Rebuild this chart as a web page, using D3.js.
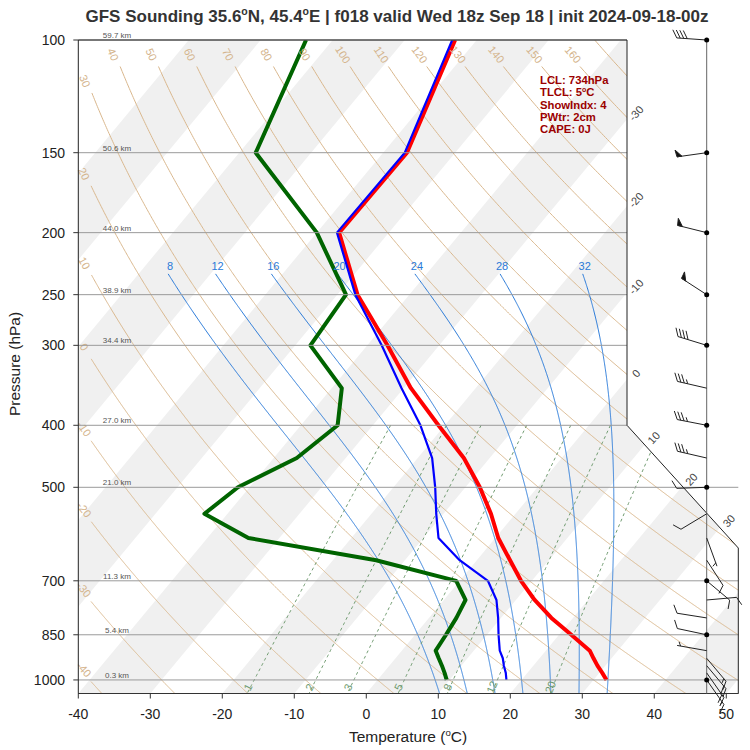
<!DOCTYPE html>
<html>
<head>
<meta charset="utf-8">
<script src="https://cdn.jsdelivr.net/npm/d3@7"></script>
<style>
  body { margin: 0; background: #fff; }
  text { font-family: "Liberation Sans", Arial, sans-serif; }
</style>
</head>
<body>
<script>
// sounding levels (hPa) and profiles (degC)
const levels  = [1000, 975, 950, 925, 900, 850, 800, 750, 700, 650, 600, 550, 500, 450, 400, 350, 300, 250, 200, 150, 100];
const temp    = [31.8, 30.4, 28.9, 27.5, 26.1, 21.7, 17.0, 12.6, 8.5, 4.6, 0.4, -3.4, -8.0, -13.6, -20.9, -29.0, -37.2, -47.2, -56.9, -56.7, -63.0];
const wetbulb = [17.9, 17.0, 15.9, 14.9, 13.6, 11.6, 9.6, 7.3, 3.9, -2.4, -7.9, -11.0, -14.2, -18.0, -23.4, -30.3, -38.0, -47.5, -57.2, -57.0, -63.4];
const dewpt   = [9.6, 8.5, 7.3, 6.0, 4.7, 4.3, 3.8, 3.0, -0.5, -14.0, -34.3, -43.2, -41.6, -36.8, -34.9, -38.6, -47.9, -48.8, -60.0, -77.7, -83.7];

// winds: direction (deg from) and speed (kt)
const windDir = [145, 145, 140, 140, 280, 282, 279, 85, 130, 147, 160, 239, 268, 283, 281, 283, 287, 303, 284, 262, 274];
const windSpd = [15, 20, 20, 15, 5, 10, 10, 10, 10, 10, 5, 10, 10, 35, 35, 35, 40, 50, 50, 50, 40];

const pTicks = [100, 150, 200, 250, 300, 400, 500, 700, 850, 1000];
const heightLabels = ["59.7 km", "50.6 km", "44.0 km", "38.9 km", "34.4 km", "27.0 km", "21.0 km", "11.3 km", "5.4 km", "0.3 km"];
const tTicks = [-40, -30, -20, -10, 0, 10, 20, 30, 40, 50];

const dryThetas = d3.range(-40, 190, 10);
const moistThetas = [8, 12, 16, 20, 24, 28, 32];
const mixRatios = [1, 2, 3, 5, 8, 12, 20];
const isoEdgeLabels = [-30, -20, -10, 0];
const isoBevelLabels = [10, 20, 30];
const indexLines = ["LCL: 734hPa", "TLCL: 5|C", "ShowIndx: 4", "PWtr: 2cm", "CAPE: 0J"];

const W = 750, H = 750;
const svg = d3.select('body').append('svg').attr('width', W).attr('height', H);

const x = d3.scaleLinear().domain([-40, 51.67]).range([78.3, 738.3]);
const y = d3.scaleLog().domain([100, 1050]).range([40, 693.5]);
const K = 0.83;
const yb = y(1050);
const sx = (T, p) => x(T) + K * (yb - y(p));

const xL = x(-40), xR = x(51.67), xTop = 627, yT = y(100);
const bevelY0 = y(400), bevelY1 = 548;
const frame = [[xL, yT], [xTop, yT], [xTop, bevelY0], [xR, bevelY1], [xR, yb], [xL, yb]];

svg.append('clipPath').attr('id', 'plot')
  .append('polygon').attr('points', frame.map(d => d.join(',')).join(' '));

const plot = svg.append('g').attr('clip-path', 'url(#plot)');
const line = d3.line();

// isotherm bands
d3.range(-100, 50, 20).forEach(t0 => {
  const pts = [[sx(t0, 1050), yb], [sx(t0, 100), yT], [sx(t0 + 10, 100), yT], [sx(t0 + 10, 1050), yb]];
  plot.append('polygon').attr('points', pts.map(d => d.join(',')).join(' ')).attr('fill', '#f0f0f0');
});

// dry adiabats
const dryT = (th, p) => (th + 273.15) * Math.pow(p / 1000, 0.2857) - 273.15;
const pDry = d3.range(100, 1051, 1);
dryThetas.forEach(th => {
  let pts = pDry.map(p => [sx(dryT(th, p), p), y(p)]);
  if (th <= 160) {
    pts = pts.filter(d => d[0] >= 91 && d[1] >= 66);
    if (pts.length > 2 && pts[0][1] < 690) {
      const a = Math.atan2(pts[3][1] - pts[0][1], pts[3][0] - pts[0][0]) * 180 / Math.PI;
      const lx = pts[0][0] - 7, ly = pts[0][1] - 12;
      svg.append('text').attr('x', lx).attr('y', ly)
        .attr('transform', `rotate(${a},${lx},${ly})`)
        .attr('text-anchor', 'middle').attr('dominant-baseline', 'central')
        .attr('font-size', 11).attr('fill', '#d4b48c').text(th);
    }
  }
  plot.append('path').attr('d', line(pts)).attr('fill', 'none')
    .attr('stroke', '#d9b78d').attr('stroke-width', 1);
});

// moist adiabats
const Rd = 287.04, Cp = 1005.7, Lv = 2.501e6, eps = 0.622;
const es = tc => 6.112 * Math.exp(17.67 * tc / (tc + 243.5));
function dTdp(T, p) {
  const e = es(T - 273.15), rs = eps * e / (p - e);
  return (Rd * T + Lv * rs) / (p * (Cp + Lv * Lv * rs * eps / (Rd * T * T)));
}
function moist(thw) {
  const up = [], down = [];
  let T = thw + 273.15, p = 1000;
  up.push([p, T]);
  while (p > 232) {
    const dp = -1;
    const k1 = dTdp(T, p), k2 = dTdp(T + k1 * dp / 2, p + dp / 2);
    T += k2 * dp; p += dp; up.push([p, T]);
  }
  T = thw + 273.15; p = 1000;
  while (p < 1050) {
    const dp = 1;
    const k1 = dTdp(T, p), k2 = dTdp(T + k1 * dp / 2, p + dp / 2);
    T += k2 * dp; p += dp; down.push([p, T]);
  }
  return down.reverse().concat(up);
}
moistThetas.forEach(th => {
  const pts = moist(th).map(d => [sx(d[1] - 273.15, d[0]), y(d[0])]);
  plot.append('path').attr('d', line(pts)).attr('fill', 'none')
    .attr('stroke', '#2a7ad8').attr('stroke-width', 1);
  const top = pts[pts.length - 1];
  svg.append('text').attr('x', top[0] + 2).attr('y', top[1] - 4)
    .attr('text-anchor', 'middle').attr('font-size', 11).attr('fill', '#2a7ad8').text(th);
});

// mixing ratio lines
const tdFromW = (w, p) => {
  const e = w * p / (622 + w), l = Math.log(e / 6.112);
  return 243.5 * l / (17.67 - l);
};
mixRatios.forEach(w => {
  const pts = d3.range(400, 1051, 5).map(p => [sx(tdFromW(w, p), p), y(p)]);
  plot.append('path').attr('d', line(pts)).attr('fill', 'none')
    .attr('stroke', '#6f9a6f').attr('stroke-width', 1).attr('stroke-dasharray', '3,3');
  const lx = sx(tdFromW(w, 1030), 1030), ly = y(1030) - 1;
  const a = Math.atan2(y(900) - y(1000), sx(tdFromW(w, 900), 900) - sx(tdFromW(w, 1000), 1000)) * 180 / Math.PI;
  svg.append('text').attr('x', lx - 2).attr('y', ly)
    .attr('transform', `rotate(${a},${lx - 2},${ly})`)
    .attr('text-anchor', 'middle').attr('dominant-baseline', 'central')
    .attr('font-size', 11).attr('fill', '#6f9a6f').text(w);
});

// pressure grid + height labels
pTicks.forEach((p, i) => {
  const xe = p <= 400 ? xTop : xR;
  svg.append('line').attr('x1', xL).attr('x2', xe).attr('y1', y(p)).attr('y2', y(p))
    .attr('stroke', '#9a9a9a').attr('stroke-width', 1);
  svg.append('text').attr('x', 117).attr('y', y(p) - 2).attr('text-anchor', 'middle')
    .attr('font-size', 8).attr('fill', '#555').text(heightLabels[i]);
});

// profiles
const prof = arr => line(arr.map((t, i) => [sx(t, levels[i]), y(levels[i])]));
plot.append('path').attr('d', prof(dewpt)).attr('fill', 'none').attr('stroke', '#006400')
  .attr('stroke-width', 4).attr('stroke-linejoin', 'round');
plot.append('path').attr('d', prof(temp)).attr('fill', 'none').attr('stroke', '#ff0000')
  .attr('stroke-width', 4).attr('stroke-linejoin', 'round');
plot.append('path').attr('d', prof(wetbulb)).attr('fill', 'none').attr('stroke', '#0000ff')
  .attr('stroke-width', 2.2).attr('stroke-linejoin', 'round');

// frame
svg.append('polygon').attr('points', frame.map(d => d.join(',')).join(' '))
  .attr('fill', 'none').attr('stroke', '#222').attr('stroke-width', 1);

// isotherm labels on right edge and bevel
isoEdgeLabels.forEach(t => {
  const yy = yb - (xTop - x(t)) / K;
  const lx = xTop + 9, ly = yy - 6;
  svg.append('text').attr('x', lx).attr('y', ly).attr('transform', `rotate(-48,${lx},${ly})`)
    .attr('text-anchor', 'middle').attr('dominant-baseline', 'central')
    .attr('font-size', 11).attr('fill', '#444').text(t);
});
isoBevelLabels.forEach(t => {
  const dx = xR - xTop, dy = bevelY1 - bevelY0;
  const s = (x(t) + K * (yb - bevelY0) - xTop) / (dx + K * dy);
  const lx = xTop + s * dx + 9, ly = bevelY0 + s * dy - 7;
  svg.append('text').attr('x', lx).attr('y', ly).attr('transform', `rotate(-48,${lx},${ly})`)
    .attr('text-anchor', 'middle').attr('dominant-baseline', 'central')
    .attr('font-size', 11).attr('fill', '#444').text(t);
});

// axes
const axB = svg.append('g');
axB.append('line').attr('x1', xL).attr('x2', xR).attr('y1', yb).attr('y2', yb).attr('stroke', '#333');
tTicks.forEach(t => {
  axB.append('line').attr('x1', x(t)).attr('x2', x(t)).attr('y1', yb).attr('y2', yb + 5).attr('stroke', '#333');
  axB.append('text').attr('x', x(t)).attr('y', 719).attr('text-anchor', 'middle')
    .attr('font-size', 14).attr('fill', '#222').text(t);
});
pTicks.forEach(p => {
  svg.append('line').attr('x1', xL - 5).attr('x2', xL).attr('y1', y(p)).attr('y2', y(p)).attr('stroke', '#333');
  svg.append('text').attr('x', 65).attr('y', y(p)).attr('text-anchor', 'end')
    .attr('dominant-baseline', 'central').attr('font-size', 14).attr('fill', '#222').text(p);
});

function supText(sel, parts, size) {
  parts.split('|').forEach((s, i) => {
    if (i > 0) sel.append('tspan').attr('dy', -size * 0.4).attr('font-size', size * 0.62).text('o');
    sel.append('tspan').attr('dy', i > 0 ? size * 0.4 : 0).text(s);
  });
}
const xl = svg.append('text').attr('x', 408).attr('y', 742).attr('text-anchor', 'middle')
  .attr('font-size', 15.5).attr('fill', '#222');
supText(xl, 'Temperature (|C)', 15.5);
svg.append('text').attr('transform', 'translate(20,364) rotate(-90)').attr('text-anchor', 'middle')
  .attr('font-size', 15.5).attr('fill', '#222').text('Pressure (hPa)');

const title = svg.append('text').attr('x', 397).attr('y', 22).attr('text-anchor', 'middle')
  .attr('font-size', 17).attr('font-weight', 'bold').attr('fill', '#333');
supText(title, 'GFS Sounding 35.6|N, 45.4|E \u2502 f018 valid Wed 18z Sep 18 \u2502 init 2024-09-18-00z', 17);
title.selectAll('tspan').each(function () { this.textContent = this.textContent.replace(/\u2502/g, '|'); });

// stability indices
indexLines.forEach((s, i) => {
  const t = svg.append('text').attr('x', 540).attr('y', 84 + i * 12.3)
    .attr('font-size', 11.3).attr('font-weight', 'bold').attr('fill', '#9b0000');
  supText(t, s, 11.3);
});

// wind barbs
const staffX = 706.7;
svg.append('line').attr('x1', staffX).attr('x2', staffX).attr('y1', yT).attr('y2', yb)
  .attr('stroke', '#666').attr('stroke-width', 1);
const barbs = svg.append('g').attr('stroke', '#222').attr('stroke-width', 1).attr('fill', '#111');
levels.forEach((p, i) => {
  const px = staffX, py = y(p);
  const r = windDir[i] * Math.PI / 180;
  const ux = Math.sin(r), uy = -Math.cos(r), nx = -uy, ny = ux;
  const L = 30, fl = 9;
  const P = d => [px + ux * d, py + uy * d];
  barbs.append('line').attr('x1', px).attr('y1', py).attr('x2', P(L)[0]).attr('y2', P(L)[1]);
  let s = Math.round(windSpd[i] / 5) * 5, pos = L;
  while (s >= 50) {
    const a = P(pos), b = P(pos - 5);
    const c = [a[0] + nx * 7 + ux * 1, a[1] + ny * 7 + uy * 1];
    barbs.append('polygon').attr('points', [a, b, c].map(d => d.join(',')).join(' '));
    pos -= 7; s -= 50;
  }
  while (s >= 10) {
    const a = P(pos);
    barbs.append('line').attr('x1', a[0]).attr('y1', a[1])
      .attr('x2', a[0] + fl * (nx * 0.87 + ux * 0.5)).attr('y2', a[1] + fl * (ny * 0.87 + uy * 0.5));
    pos -= 3.5; s -= 10;
  }
  if (s >= 5) {
    if (pos === L) pos -= 3.5;
    const a = P(pos);
    barbs.append('line').attr('x1', a[0]).attr('y1', a[1])
      .attr('x2', a[0] + fl * 0.5 * (nx * 0.87 + ux * 0.5)).attr('y2', a[1] + fl * 0.5 * (ny * 0.87 + uy * 0.5));
  }
});
pTicks.forEach(p => {
  svg.append('circle').attr('cx', staffX).attr('cy', y(p)).attr('r', 2.5).attr('fill', '#000');
});
</script>
</body>
</html>
